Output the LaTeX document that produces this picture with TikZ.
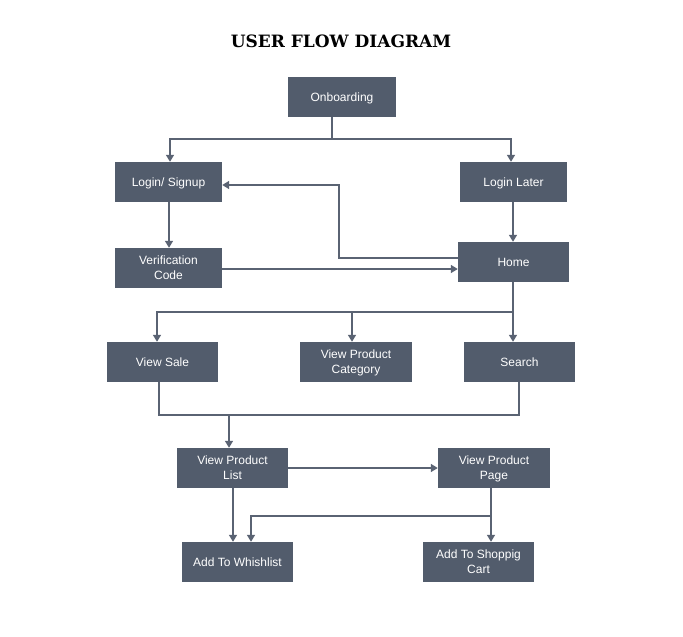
\documentclass[tikz,border=0pt]{standalone}
\usepackage{fontspec}
\setmainfont{Liberation Sans}
\newfontfamily\titlefont{DejaVu Serif}
\usetikzlibrary{arrows.meta,calc}
\definecolor{boxc}{RGB}{82,92,108}
\definecolor{linec}{RGB}{90,99,115}
\tikzset{
  fbox/.style={fill=boxc, draw=none, text=white, minimum height=40pt, inner sep=2pt,
    align=center, font=\fontsize{12}{15}\selectfont, text depth=0pt},
  conn/.style={draw=linec, line width=1.5pt},
  arr/.style={conn, -{Triangle[length=7pt,width=8pt]}},
}
\begin{document}
\begin{tikzpicture}[x={(1pt,0)}, y={(0,-1pt)}]
\useasboundingbox (0,0) rectangle (683,637);
\fill[white] (0,0) rectangle (683,637);
\node[font=\titlefont\bfseries\fontsize{17}{20}\selectfont] (title) at (341,41) {USER FLOW DIAGRAM};

\node[fbox, minimum width=108pt] (onb) at (342,97) {Onboarding};
\node[fbox, minimum width=107pt] (login) at (168.5,182) {Login/ Signup};
\node[fbox, minimum width=107pt] (later) at (513.5,182) {Login Later};
\node[fbox, minimum width=107pt] (verif) at (168.5,268) {Verification\\Code};
\node[fbox, minimum width=111pt] (home) at (513.5,262) {Home};
\node[fbox, minimum width=111pt] (sale) at (162.5,362) {View Sale};
\node[fbox, minimum width=112pt] (cat) at (356,362) {View Product\\Category};
\node[fbox, minimum width=111pt] (search) at (519.5,362) {Search};
\node[fbox, minimum width=111pt] (list) at (232.5,468) {View Product\\List};
\node[fbox, minimum width=112pt] (page) at (494,468) {View Product\\Page};
\node[fbox, minimum width=111pt] (wish) at (237.5,562) {Add To Whishlist};
\node[fbox, minimum width=111pt] (cart) at (478.5,562) {Add To Shoppig\\Cart};

% Onboarding split
\coordinate (j1) at (332,139);
\draw[conn] (onb.south -| j1) -- (j1);
\draw[arr] (j1) -| ($(login.north)+(1.5,0)$);
\draw[arr] (j1) -| ($(later.north)+(-2.5,0)$);

% Login -> Verification, Later -> Home
\draw[arr] ($(login.south)+(0.5,0)$) -- ($(verif.north)+(0.5,0)$);
\draw[arr] ($(later.south)+(-0.5,0)$) -- ($(later.south |- home.north)+(-0.5,0)$);

% Verification -> Home
\draw[arr] ($(verif.east)+(0,1)$) -- ($(home.west)+(0,7)$);
% Home -> Login
\coordinate (j2) at (339,258);
\draw[arr] ($(home.west)+(0,-4)$) -- (j2) |- ($(login.east)+(0,3)$);

% Home split
\coordinate (j3) at (513,312);
\draw[conn] (home.south -| j3) -- (j3);
\draw[arr] (j3) -| ($(sale.north)+(-5.5,0)$);
\draw[arr] (j3) -| ($(cat.north)+(-4,0)$);
\draw[arr] (j3) -- ($(search.north)+(-6.5,0)$);

% Merge to list
\coordinate (m1) at (159,415);
\coordinate (m2) at (519,415);
\draw[conn] ($(sale.south)+(-3.5,0)$) -- (m1) -- (m2) -- ($(search.south)+(-0.5,0)$);
\draw[conn] ($(cat.south)+(-3,0)$) -- ($(cat.south)+(-3,0)$ |- m1);
\draw[arr] (229,415) -- ($(list.north)+(-3.5,0)$);

% List -> Page, List -> Wish
\draw[arr] (list.east) -- (page.west);
\draw[arr] ($(list.south)+(0.5,0)$) -- ($(list.south |- wish.north)+(0.5,0)$);

% Page -> Cart and Wish
\coordinate (j4) at (491,516);
\draw[conn] ($(page.south)+(-3,0)$) -- (j4);
\draw[arr] (j4) -- ($(cart.north)+(12.5,0)$);
\draw[arr] (j4) -| ($(wish.north)+(13.5,0)$);
\end{tikzpicture}
\end{document}
